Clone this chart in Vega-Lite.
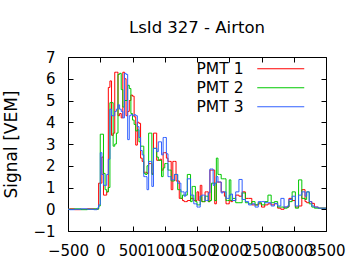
{
  "$schema": "https://vega.github.io/schema/vega-lite/v6.json",
  "width": 258,
  "height": 174,
  "autosize": {"type": "none"},
  "padding": {"left": 68, "top": 57, "right": 34, "bottom": 39},
  "background": "white",
  "title": {"text": "LsId 327 - Airton", "font": "DejaVu Sans", "fontSize": 16.5, "fontWeight": "normal", "color": "black", "offset": 14, "anchor": "middle"},
  "config": {
    "view": {"stroke": "black", "strokeWidth": 1},
    "font": "DejaVu Sans",
    "axis": {"grid": false, "domain": false, "tickColor": "black", "labelColor": "black", "labelFont": "DejaVu Sans", "labelFontSize": 15, "titleFont": "DejaVu Sans", "titleColor": "black", "titleFontWeight": "normal", "tickSize": -5, "labelOverlap": false, "labelFlush": false, "format": "d"}
  },
  "data": {"values": [
    {"t": -500, "PMT 1": 0.0, "PMT 2": 0.0, "PMT 3": 0.0},
    {"t": -475, "PMT 1": 0.02, "PMT 2": 0.0, "PMT 3": -0.02},
    {"t": -400, "PMT 1": -0.02, "PMT 2": 0.02, "PMT 3": 0.0},
    {"t": -300, "PMT 1": 0.0, "PMT 2": -0.02, "PMT 3": 0.02},
    {"t": -200, "PMT 1": 0.02, "PMT 2": 0.0, "PMT 3": 0.0},
    {"t": -100, "PMT 1": 0.0, "PMT 2": 0.02, "PMT 3": -0.02},
    {"t": -50, "PMT 1": 0.02, "PMT 2": 0.0, "PMT 3": 0.05},
    {"t": -25, "PMT 1": 1.2, "PMT 2": 0.15, "PMT 3": 0.2},
    {"t": 0, "PMT 1": 1.2, "PMT 2": 3.45, "PMT 3": 2.6},
    {"t": 25, "PMT 1": 2.4, "PMT 2": 3.45, "PMT 3": 1.6},
    {"t": 50, "PMT 1": 0.65, "PMT 2": 1.65, "PMT 3": 1.1},
    {"t": 75, "PMT 1": 0.65, "PMT 2": 0.9, "PMT 3": 1.1},
    {"t": 100, "PMT 1": 0.8, "PMT 2": 0.8, "PMT 3": 1.6},
    {"t": 125, "PMT 1": 5.6, "PMT 2": 1.0, "PMT 3": 2.3},
    {"t": 150, "PMT 1": 5.9, "PMT 2": 4.9, "PMT 3": 4.6},
    {"t": 175, "PMT 1": 3.4, "PMT 2": 4.9, "PMT 3": 4.3},
    {"t": 200, "PMT 1": 3.5, "PMT 2": 2.9, "PMT 3": 4.3},
    {"t": 225, "PMT 1": 6.3, "PMT 2": 3.0, "PMT 3": 4.5},
    {"t": 250, "PMT 1": 6.3, "PMT 2": 3.5, "PMT 3": 4.6},
    {"t": 275, "PMT 1": 4.3, "PMT 2": 6.2, "PMT 3": 4.8},
    {"t": 300, "PMT 1": 4.4, "PMT 2": 6.25, "PMT 3": 4.6},
    {"t": 325, "PMT 1": 4.2, "PMT 2": 5.5, "PMT 3": 4.5},
    {"t": 350, "PMT 1": 6.3, "PMT 2": 4.7, "PMT 3": 4.2},
    {"t": 375, "PMT 1": 6.0, "PMT 2": 5.0, "PMT 3": 6.25},
    {"t": 400, "PMT 1": 4.3, "PMT 2": 5.0, "PMT 3": 6.2},
    {"t": 425, "PMT 1": 4.5, "PMT 2": 5.7, "PMT 3": 3.2},
    {"t": 450, "PMT 1": 5.0, "PMT 2": 5.55, "PMT 3": 4.3},
    {"t": 475, "PMT 1": 5.25, "PMT 2": 4.4, "PMT 3": 4.35},
    {"t": 500, "PMT 1": 5.2, "PMT 2": 4.1, "PMT 3": 4.3},
    {"t": 525, "PMT 1": 4.25, "PMT 2": 3.9, "PMT 3": 4.35},
    {"t": 550, "PMT 1": 2.95, "PMT 2": 3.6, "PMT 3": 4.3},
    {"t": 575, "PMT 1": 4.0, "PMT 2": 3.65, "PMT 3": 3.8},
    {"t": 600, "PMT 1": 3.95, "PMT 2": 3.1, "PMT 3": 3.3},
    {"t": 625, "PMT 1": 2.35, "PMT 2": 2.9, "PMT 3": 2.7},
    {"t": 650, "PMT 1": 2.2, "PMT 2": 2.9, "PMT 3": 2.5},
    {"t": 675, "PMT 1": 1.7, "PMT 2": 1.65, "PMT 3": 1.5},
    {"t": 700, "PMT 1": 1.7, "PMT 2": 1.6, "PMT 3": 1.5},
    {"t": 725, "PMT 1": 1.65, "PMT 2": 2.0, "PMT 3": 0.9},
    {"t": 750, "PMT 1": 2.1, "PMT 2": 3.5, "PMT 3": 2.2},
    {"t": 775, "PMT 1": 2.1, "PMT 2": 3.5, "PMT 3": 2.2},
    {"t": 800, "PMT 1": 1.65, "PMT 2": 1.6, "PMT 3": 1.05},
    {"t": 825, "PMT 1": 3.5, "PMT 2": 2.8, "PMT 3": 2.8},
    {"t": 850, "PMT 1": 3.5, "PMT 2": 2.8, "PMT 3": 2.8},
    {"t": 875, "PMT 1": 2.25, "PMT 2": 2.4, "PMT 3": 2.65},
    {"t": 900, "PMT 1": 2.25, "PMT 2": 2.25, "PMT 3": 3.1},
    {"t": 925, "PMT 1": 2.3, "PMT 2": 2.25, "PMT 3": 3.1},
    {"t": 950, "PMT 1": 1.8, "PMT 2": 1.5, "PMT 3": 2.5},
    {"t": 975, "PMT 1": 2.6, "PMT 2": 1.9, "PMT 3": 3.3},
    {"t": 1000, "PMT 1": 2.6, "PMT 2": 2.1, "PMT 3": 3.3},
    {"t": 1025, "PMT 1": 2.35, "PMT 2": 2.1, "PMT 3": 2.55},
    {"t": 1050, "PMT 1": 2.2, "PMT 2": 1.8, "PMT 3": 1.5},
    {"t": 1075, "PMT 1": 2.2, "PMT 2": 1.8, "PMT 3": 1.5},
    {"t": 1100, "PMT 1": 0.9, "PMT 2": 1.3, "PMT 3": 1.35},
    {"t": 1125, "PMT 1": 2.2, "PMT 2": 1.3, "PMT 3": 1.35},
    {"t": 1150, "PMT 1": 2.2, "PMT 2": 1.6, "PMT 3": 1.6},
    {"t": 1175, "PMT 1": 1.3, "PMT 2": 1.6, "PMT 3": 1.6},
    {"t": 1200, "PMT 1": 1.3, "PMT 2": 0.9, "PMT 3": 1.2},
    {"t": 1225, "PMT 1": 0.5, "PMT 2": 0.9, "PMT 3": 1.2},
    {"t": 1250, "PMT 1": 0.5, "PMT 2": 0.5, "PMT 3": 0.8},
    {"t": 1275, "PMT 1": 0.4, "PMT 2": 0.65, "PMT 3": 0.8},
    {"t": 1300, "PMT 1": 0.35, "PMT 2": 0.65, "PMT 3": 0.6},
    {"t": 1325, "PMT 1": 0.35, "PMT 2": 0.65, "PMT 3": 0.8},
    {"t": 1350, "PMT 1": 0.4, "PMT 2": 1.6, "PMT 3": 1.4},
    {"t": 1375, "PMT 1": 0.4, "PMT 2": 1.6, "PMT 3": 1.4},
    {"t": 1400, "PMT 1": 0.5, "PMT 2": 0.35, "PMT 3": 0.65},
    {"t": 1425, "PMT 1": 0.5, "PMT 2": 1.05, "PMT 3": 0.65},
    {"t": 1450, "PMT 1": 0.4, "PMT 2": 1.05, "PMT 3": 0.25},
    {"t": 1475, "PMT 1": 0.4, "PMT 2": 0.35, "PMT 3": 0.25},
    {"t": 1500, "PMT 1": 0.8, "PMT 2": 0.2, "PMT 3": 0.1},
    {"t": 1525, "PMT 1": 0.4, "PMT 2": 0.2, "PMT 3": 0.1},
    {"t": 1550, "PMT 1": 1.1, "PMT 2": 0.6, "PMT 3": 0.6},
    {"t": 1575, "PMT 1": 0.35, "PMT 2": 0.35, "PMT 3": 0.65},
    {"t": 1600, "PMT 1": 0.35, "PMT 2": 0.35, "PMT 3": 0.65},
    {"t": 1625, "PMT 1": 0.8, "PMT 2": 0.6, "PMT 3": 0.4},
    {"t": 1650, "PMT 1": 0.8, "PMT 2": 0.6, "PMT 3": 0.4},
    {"t": 1675, "PMT 1": 0.35, "PMT 2": 0.35, "PMT 3": 0.75},
    {"t": 1700, "PMT 1": 1.8, "PMT 2": 0.4, "PMT 3": 1.85},
    {"t": 1725, "PMT 1": 1.8, "PMT 2": 1.2, "PMT 3": 1.85},
    {"t": 1750, "PMT 1": 1.8, "PMT 2": 1.2, "PMT 3": 1.1},
    {"t": 1775, "PMT 1": 0.25, "PMT 2": 0.4, "PMT 3": 1.2},
    {"t": 1800, "PMT 1": 1.25, "PMT 2": 2.35, "PMT 3": 1.5},
    {"t": 1825, "PMT 1": 1.25, "PMT 2": 1.6, "PMT 3": 1.25},
    {"t": 1850, "PMT 1": 1.25, "PMT 2": 1.6, "PMT 3": 1.25},
    {"t": 1875, "PMT 1": 0.8, "PMT 2": 1.4, "PMT 3": 0.75},
    {"t": 1900, "PMT 1": 0.8, "PMT 2": 1.4, "PMT 3": 0.8},
    {"t": 1925, "PMT 1": 0.6, "PMT 2": 1.4, "PMT 3": 0.8},
    {"t": 1950, "PMT 1": 0.25, "PMT 2": 0.4, "PMT 3": 0.5},
    {"t": 1975, "PMT 1": 0.25, "PMT 2": 0.4, "PMT 3": 0.5},
    {"t": 2000, "PMT 1": 0.4, "PMT 2": 1.35, "PMT 3": 0.65},
    {"t": 2025, "PMT 1": 0.35, "PMT 2": 0.4, "PMT 3": 0.7},
    {"t": 2050, "PMT 1": 0.4, "PMT 2": 0.5, "PMT 3": 0.4},
    {"t": 2100, "PMT 1": 0.65, "PMT 2": 0.3, "PMT 3": 0.8},
    {"t": 2150, "PMT 1": 0.6, "PMT 2": 0.3, "PMT 3": 1.37},
    {"t": 2200, "PMT 1": 0.8, "PMT 2": 0.75, "PMT 3": 0.45},
    {"t": 2250, "PMT 1": 0.5, "PMT 2": 0.3, "PMT 3": 0.35},
    {"t": 2300, "PMT 1": 0.5, "PMT 2": 0.25, "PMT 3": 0.2},
    {"t": 2350, "PMT 1": 0.2, "PMT 2": 0.35, "PMT 3": 0.25},
    {"t": 2400, "PMT 1": 0.2, "PMT 2": 0.2, "PMT 3": 0.1},
    {"t": 2450, "PMT 1": 0.25, "PMT 2": 0.3, "PMT 3": 0.35},
    {"t": 2500, "PMT 1": 0.1, "PMT 2": 0.2, "PMT 3": 0.35},
    {"t": 2550, "PMT 1": 0.2, "PMT 2": 0.35, "PMT 3": 0.3},
    {"t": 2600, "PMT 1": 0.25, "PMT 2": 0.65, "PMT 3": 0.3},
    {"t": 2650, "PMT 1": 0.2, "PMT 2": 0.3, "PMT 3": 0.15},
    {"t": 2700, "PMT 1": 0.25, "PMT 2": 0.35, "PMT 3": 0.27},
    {"t": 2750, "PMT 1": 0.05, "PMT 2": 0.1, "PMT 3": 0.15},
    {"t": 2800, "PMT 1": 0.0, "PMT 2": 0.1, "PMT 3": 0.5},
    {"t": 2850, "PMT 1": 0.1, "PMT 2": 0.05, "PMT 3": 0.1},
    {"t": 2900, "PMT 1": 0.1, "PMT 2": 0.1, "PMT 3": 0.15},
    {"t": 2925, "PMT 1": 0.5, "PMT 2": 0.35, "PMT 3": 0.45},
    {"t": 2975, "PMT 1": 0.4, "PMT 2": 0.8, "PMT 3": 0.6},
    {"t": 3025, "PMT 1": 0.1, "PMT 2": 0.05, "PMT 3": 0.15},
    {"t": 3075, "PMT 1": 0.15, "PMT 2": 1.35, "PMT 3": 0.65},
    {"t": 3125, "PMT 1": 0.9, "PMT 2": 0.5, "PMT 3": 0.8},
    {"t": 3175, "PMT 1": 0.35, "PMT 2": 0.45, "PMT 3": 0.6},
    {"t": 3200, "PMT 1": 0.3, "PMT 2": 0.8, "PMT 3": 0.8},
    {"t": 3240, "PMT 1": 0.35, "PMT 2": 0.25, "PMT 3": 0.35},
    {"t": 3280, "PMT 1": 0.27, "PMT 2": 0.1, "PMT 3": 0.15},
    {"t": 3320, "PMT 1": 0.1, "PMT 2": 0.05, "PMT 3": 0.1},
    {"t": 3380, "PMT 1": 0.05, "PMT 2": 0.05, "PMT 3": 0.05},
    {"t": 3500, "PMT 1": 0.05, "PMT 2": 0.05, "PMT 3": 0.05}
  ]},
  "transform": [{"fold": ["PMT 1", "PMT 2", "PMT 3"], "as": ["pmt", "v"]}],
  "layer": [
    {
      "mark": {"type": "line", "interpolate": "step-after", "strokeWidth": 1, "clip": true},
      "encoding": {
        "x": {"field": "t", "type": "quantitative", "scale": {"domain": [-500, 3500], "nice": false, "zero": false},
              "axis": {"orient": "bottom", "values": [-500, 0, 500, 1000, 1500, 2000, 2500, 3000, 3500], "title": null, "labelPadding": 17}},
        "y": {"field": "v", "type": "quantitative", "scale": {"domain": [-1, 7], "nice": false, "zero": false},
              "axis": {"orient": "left", "values": [-1, 0, 1, 2, 3, 4, 5, 6, 7], "title": "Signal [VEM]", "titleFontSize": 17, "labelPadding": 18, "titlePadding": 12}},
        "color": {"field": "pmt", "type": "nominal",
                  "scale": {"domain": ["PMT 1", "PMT 2", "PMT 3"], "range": ["#ff0000", "#00c800", "#3060ff"]},
                  "legend": {"orient": "none", "legendX": 205, "legendY": 4, "title": null, "symbolType": "M-4,0H4", "symbolSize": 138, "symbolStrokeWidth": 1.2, "symbolFillColor": "transparent", "labelFontSize": 15.5, "labelFont": "DejaVu Sans", "labelColor": "black", "labelAlign": "right", "labelOffset": -45, "rowPadding": 2, "padding": 0}}
      }
    },
    {
      "mark": {"type": "line", "interpolate": "step-after", "opacity": 0},
      "encoding": {
        "x": {"field": "t", "type": "quantitative", "axis": {"orient": "top", "values": [-500, 0, 500, 1000, 1500, 2000, 2500, 3000, 3500], "labels": false, "title": null}},
        "y": {"field": "v", "type": "quantitative", "axis": {"orient": "right", "values": [-1, 0, 1, 2, 3, 4, 5, 6, 7], "labels": false, "title": null}},
        "detail": {"field": "pmt"}
      }
    }
  ],
  "resolve": {"axis": {"x": "independent", "y": "independent"}}
}
